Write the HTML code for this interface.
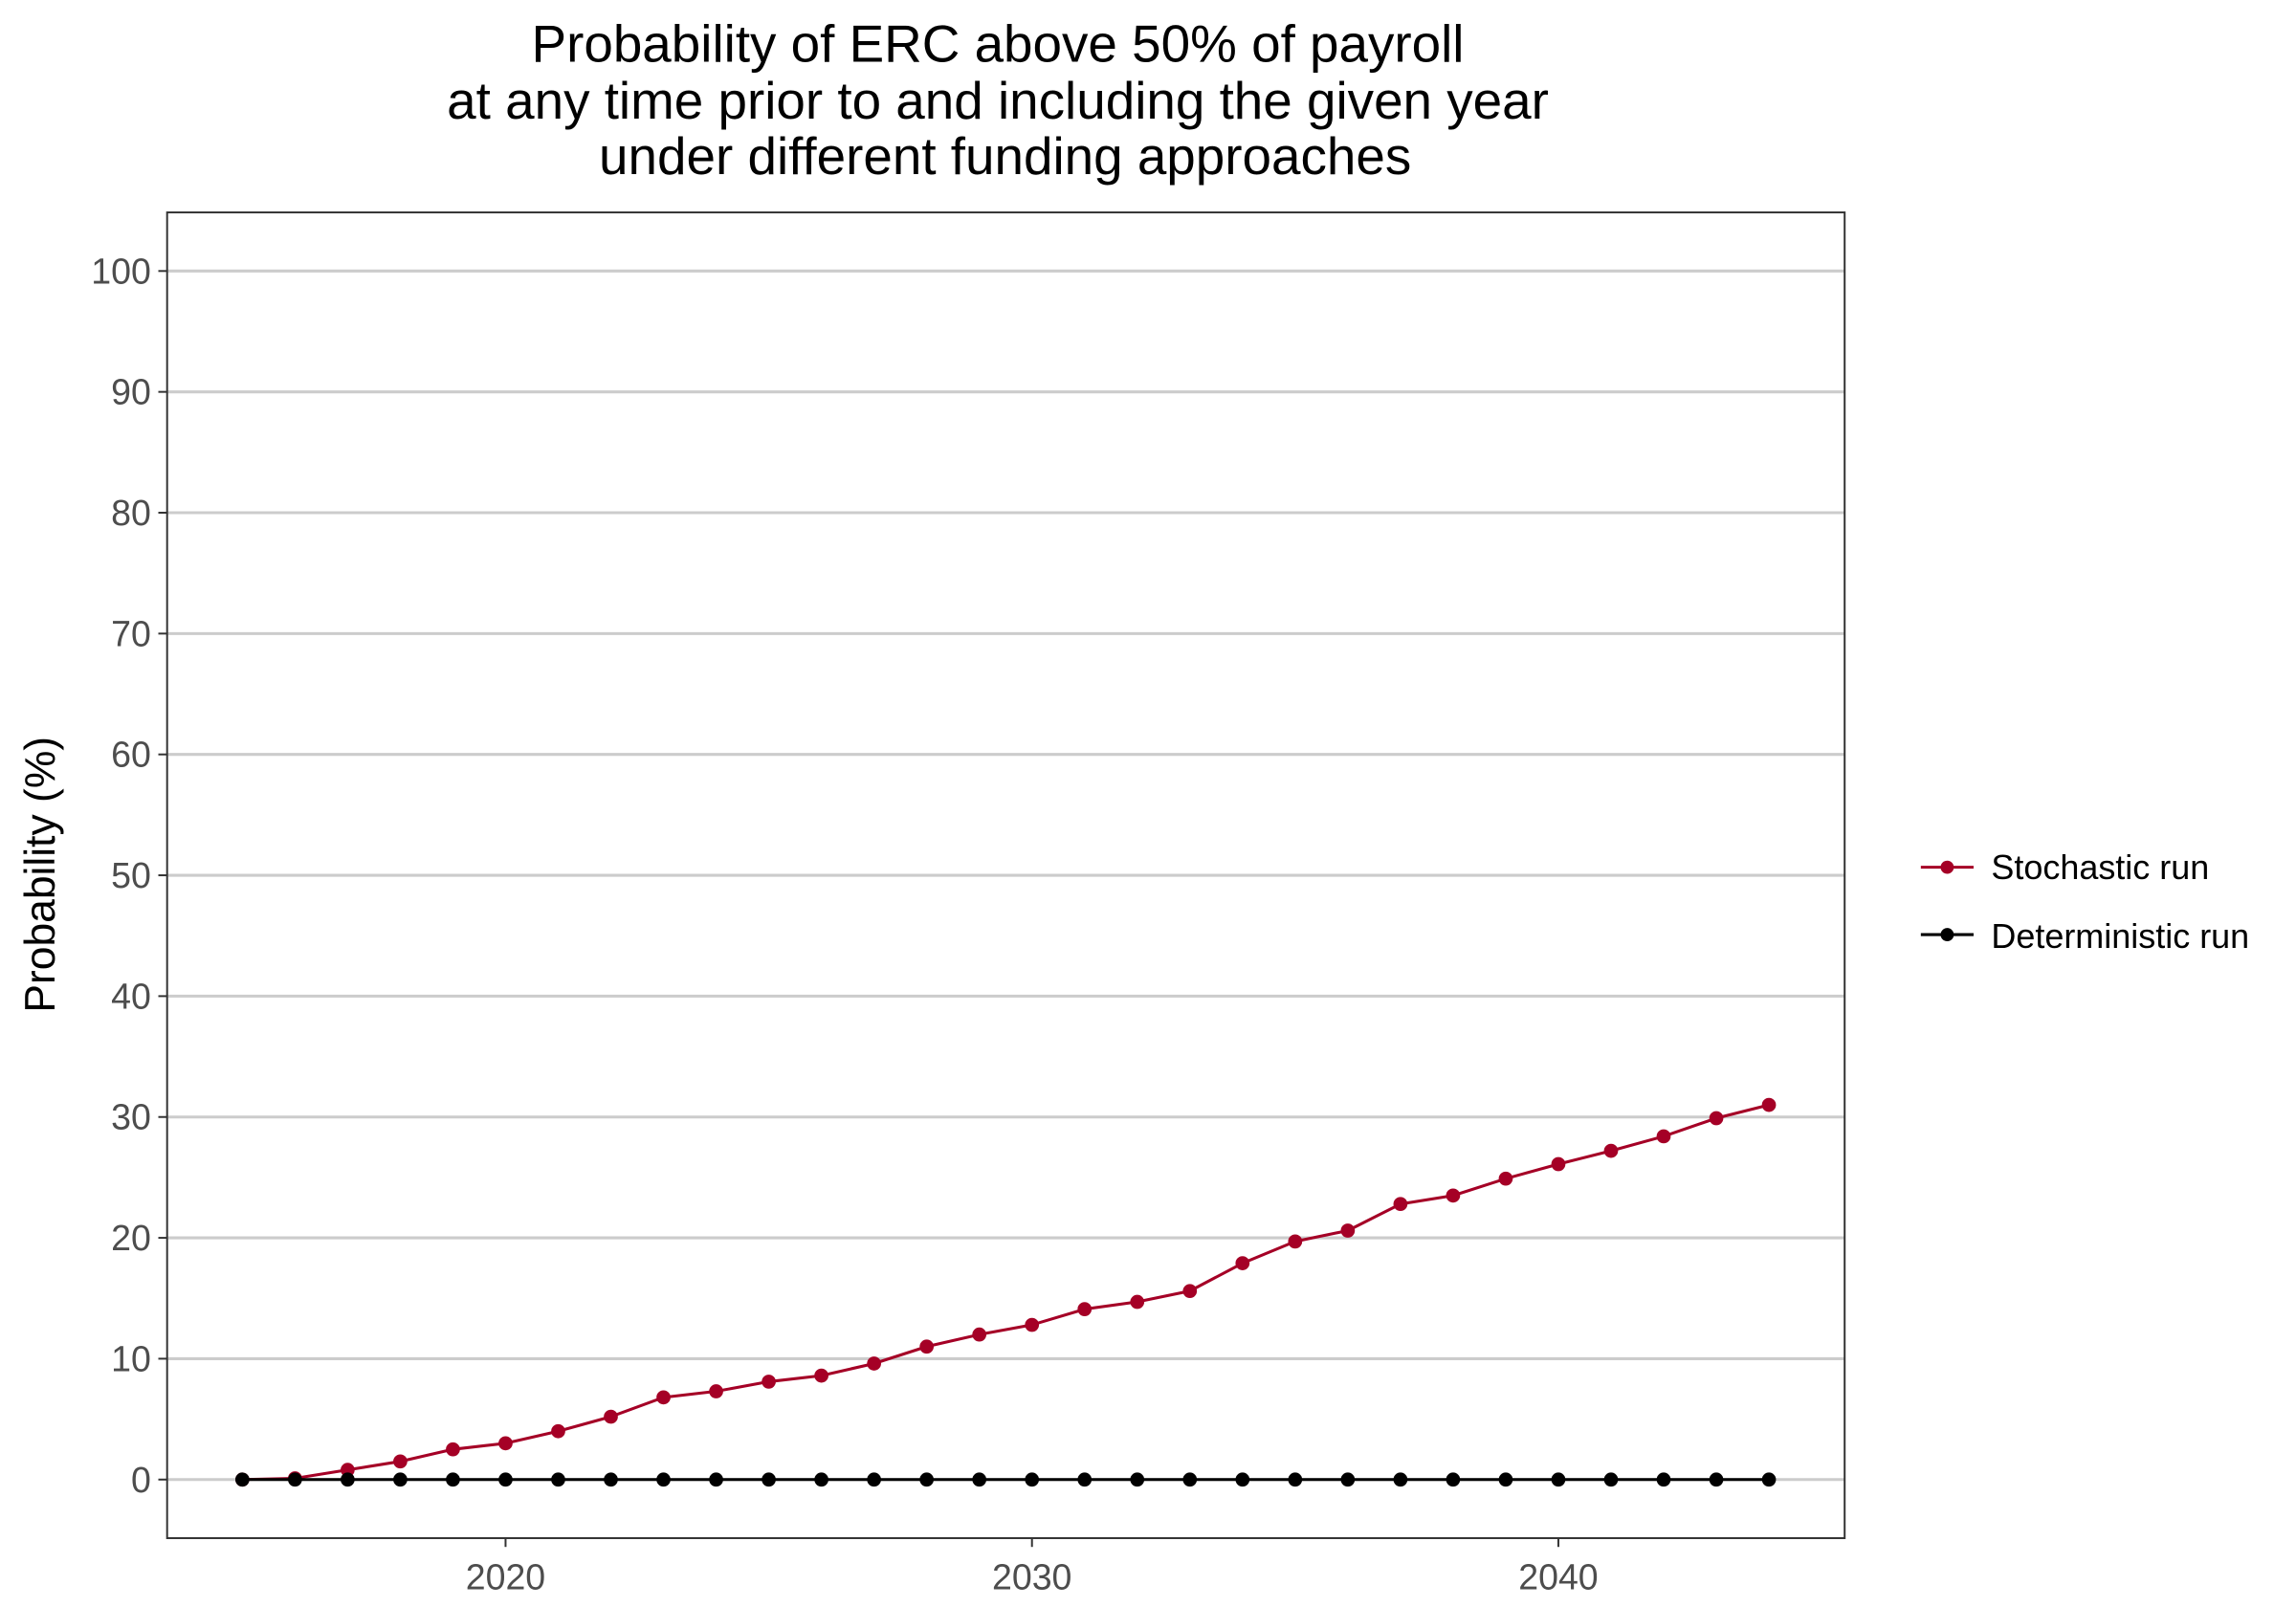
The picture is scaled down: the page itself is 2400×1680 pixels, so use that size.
<!DOCTYPE html>
<html><head><meta charset="utf-8"><style>html,body{margin:0;padding:0;background:#fff}svg{display:block}text{font-family:"Liberation Sans",Arial,sans-serif}</style></head>
<body>
<svg id="chart" width="2400" height="1680" viewBox="0 0 1567 1097" xmlns="http://www.w3.org/2000/svg">
<g font-size="35.8" text-anchor="middle" fill="#000">
<text x="681" y="42">Probability of ERC above 50% of payroll</text>
<text x="681" y="81">at any time prior to and including the given year</text>
<text x="686" y="119">under different funding approaches</text>
</g>
<g id="grid"></g>
<g id="yticks"></g>
<g id="xticks"></g>
<g id="series"></g>
<rect x="114" y="145" width="1145" height="905" fill="none" stroke="#333" stroke-width="1.3"/>
<text transform="translate(37,597) rotate(-90)" text-anchor="middle" font-size="29">Probability (%)</text>
<g font-size="23.5">
<g>
<line x1="1311" y1="592" x2="1347" y2="592" stroke="#a50026" stroke-width="2"/><circle cx="1329" cy="592" r="4.5" fill="#a50026"/>
<text x="1359" y="600">Stochastic run</text></g>
<g>
<line x1="1311" y1="638" x2="1347" y2="638" stroke="#000" stroke-width="2"/><circle cx="1329" cy="638" r="4.5" fill="#000"/>
<text x="1359" y="647">Deterministic run</text></g>
</g>
</svg>
<script>
const years = [2015,2016,2017,2018,2019,2020,2021,2022,2023,2024,2025,2026,2027,2028,2029,2030,2031,2032,2033,2034,2035,2036,2037,2038,2039,2040,2041,2042,2043,2044];
const stochastic = [0,0.1,0.8,1.5,2.5,3.0,4.0,5.2,6.8,7.3,8.1,8.6,9.6,11.0,12.0,12.8,14.1,14.7,15.6,17.9,19.7,20.6,22.8,23.5,24.9,26.1,27.2,28.4,29.9,31.0];
const deterministic = [0,0,0,0,0,0,0,0,0,0,0,0,0,0,0,0,0,0,0,0,0,0,0,0,0,0,0,0,0,0];
const yTicks = [0,10,20,30,40,50,60,70,80,90,100];
const xTicks = [2020,2030,2040];
const NS="http://www.w3.org/2000/svg";
function xs(v){return 345+(v-2020)*35.93;}
function ys(v){return 1010-v*8.25;}
function mk(tag,attrs,parent){const e=document.createElementNS(NS,tag);for(const k in attrs)e.setAttribute(k,attrs[k]);parent.appendChild(e);return e;}
const grid=document.getElementById('grid'),yt=document.getElementById('yticks'),xt=document.getElementById('xticks'),ser=document.getElementById('series');
yTicks.forEach(t=>{
 const g=mk('line',{x1:114,x2:1259,y1:ys(t),y2:ys(t),stroke:'#cccccc','stroke-width':2},grid);
 
 
 const tk=mk('line',{x1:108,x2:114,y1:ys(t),y2:ys(t),stroke:'#333','stroke-width':1.3},yt);
 
 
 const l=mk('text',{x:103,y:ys(t)+8.5,'text-anchor':'end','font-size':24.5,fill:'#4d4d4d'},yt);
 l.textContent=t;
 
 
});
xTicks.forEach(t=>{
 const tk=mk('line',{x1:xs(t),x2:xs(t),y1:1050,y2:1056,stroke:'#333','stroke-width':1.3},xt);
 
 
 const l=mk('text',{x:xs(t),y:1085,'text-anchor':'middle','font-size':24.5,fill:'#4d4d4d'},xt);
 l.textContent=t;
 
 
});
function drawSeries(vals,color,name){
 const g=mk('g',{},ser);
 
 
 const pts=years.map((y,i)=>xs(y)+','+ys(vals[i])).join(' ');
 const pl=mk('polyline',{points:pts,fill:'none',stroke:color,'stroke-width':2},g);
 
 
 years.forEach((y,i)=>{
  const c=mk('circle',{cx:xs(y),cy:ys(vals[i]),r:4.8,fill:color},g);
  
  
 });
}
drawSeries(stochastic,'#a50026','stochastic');
drawSeries(deterministic,'#000000','deterministic');
</script>
</body></html>
